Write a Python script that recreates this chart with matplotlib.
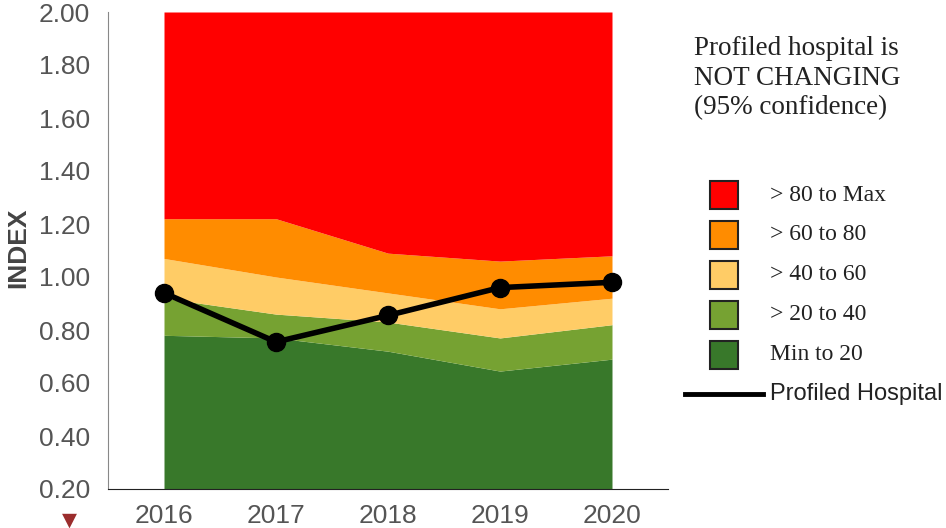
import matplotlib.pyplot as plt
from matplotlib.patches import Rectangle
from matplotlib.lines import Line2D

# Data
years = [2016, 2017, 2018, 2019, 2020]
p20 = [0.78, 0.77, 0.72, 0.645, 0.69]
p40 = [0.92, 0.86, 0.83, 0.77, 0.82]
p60 = [1.07, 1.00, 0.94, 0.88, 0.92]
p80 = [1.22, 1.22, 1.09, 1.06, 1.08]
pmax = [2.00, 2.00, 2.00, 2.00, 2.00]
hospital = [0.94, 0.755, 0.855, 0.96, 0.98]

band_labels = ['> 80 to Max', '> 60 to 80', '> 40 to 60', '> 20 to 40', 'Min to 20']
band_colors = ['#ff0000', '#ff8c00', '#ffcc66', '#76a232', '#38782a']
y_ticks = [0.2, 0.4, 0.6, 0.8, 1.0, 1.2, 1.4, 1.6, 1.8, 2.0]

W, H = 946, 528
fig = plt.figure(figsize=(W / 100, H / 100), dpi=100)
ax = fig.add_axes([108 / W, 39 / H, 560 / W, 477 / H])

# stacked percentile bands
lows = [[0.2] * 5, p20, p40, p60, p80]
highs = [p20, p40, p60, p80, pmax]
for lo, hi, col in zip(lows, highs, band_colors[::-1]):
    ax.fill_between(years, lo, hi, color=col, linewidth=0)

ax.plot(years, hospital, color='black', linewidth=4, marker='o', markersize=13, zorder=5)

ax.set_xlim(2015.5, 2020.5)
ax.set_ylim(0.2, 2.0)
ax.set_xticks(years)
ax.set_yticks(y_ticks)
ax.set_yticklabels(['%.2f' % v for v in y_ticks])
ax.tick_params(length=0, labelsize=19, colors='#555555')
ax.tick_params(axis='y', pad=13)
ax.tick_params(axis='x', pad=11)
for lbl in ax.get_xticklabels() + ax.get_yticklabels():
    lbl.set_family('Liberation Sans')
ax.spines['top'].set_visible(False)
ax.spines['right'].set_visible(False)
ax.spines['left'].set_color('#888888')
ax.spines['bottom'].set_color('#222222')

fig.text(18 / W, 1 - 248 / H, 'INDEX', rotation=90, fontsize=19, fontweight='bold',
         color='#444444', family='Liberation Sans', ha='center', va='center')

fig.text(694 / W, 1 - 36 / H, 'Profiled hospital is\nNOT CHANGING\n(95% confidence)',
         family='Liberation Serif', fontsize=19.5, color='#222222', va='top',
         linespacing=1.25)

# legend drawn by hand to match the original layout
for i, (lab, col) in enumerate(zip(band_labels, band_colors)):
    yc = 195 + 40 * i
    fig.add_artist(Rectangle((710 / W, 1 - (yc + 14) / H), 28 / W, 28 / H,
                             facecolor=col, edgecolor='#222222', linewidth=1.5,
                             transform=fig.transFigure))
    fig.text(770 / W, 1 - yc / H, lab, family='Liberation Serif', fontsize=17,
             color='#222222', va='center')

fig.add_artist(Line2D([685 / W, 763 / W], [1 - 394 / H] * 2, color='black',
                      linewidth=3.5, transform=fig.transFigure))
fig.text(770 / W, 1 - 394 / H, 'Profiled Hospital', family='Liberation Sans',
         fontsize=17, color='#222222', va='center')

# small marker below the y axis
fig.text(69 / W, 1 - 520 / H, '\u25BC', fontsize=14, color='#9b2d2d',
         ha='center', va='center', family='DejaVu Sans')

fig.savefig('out.png', dpi=100)
